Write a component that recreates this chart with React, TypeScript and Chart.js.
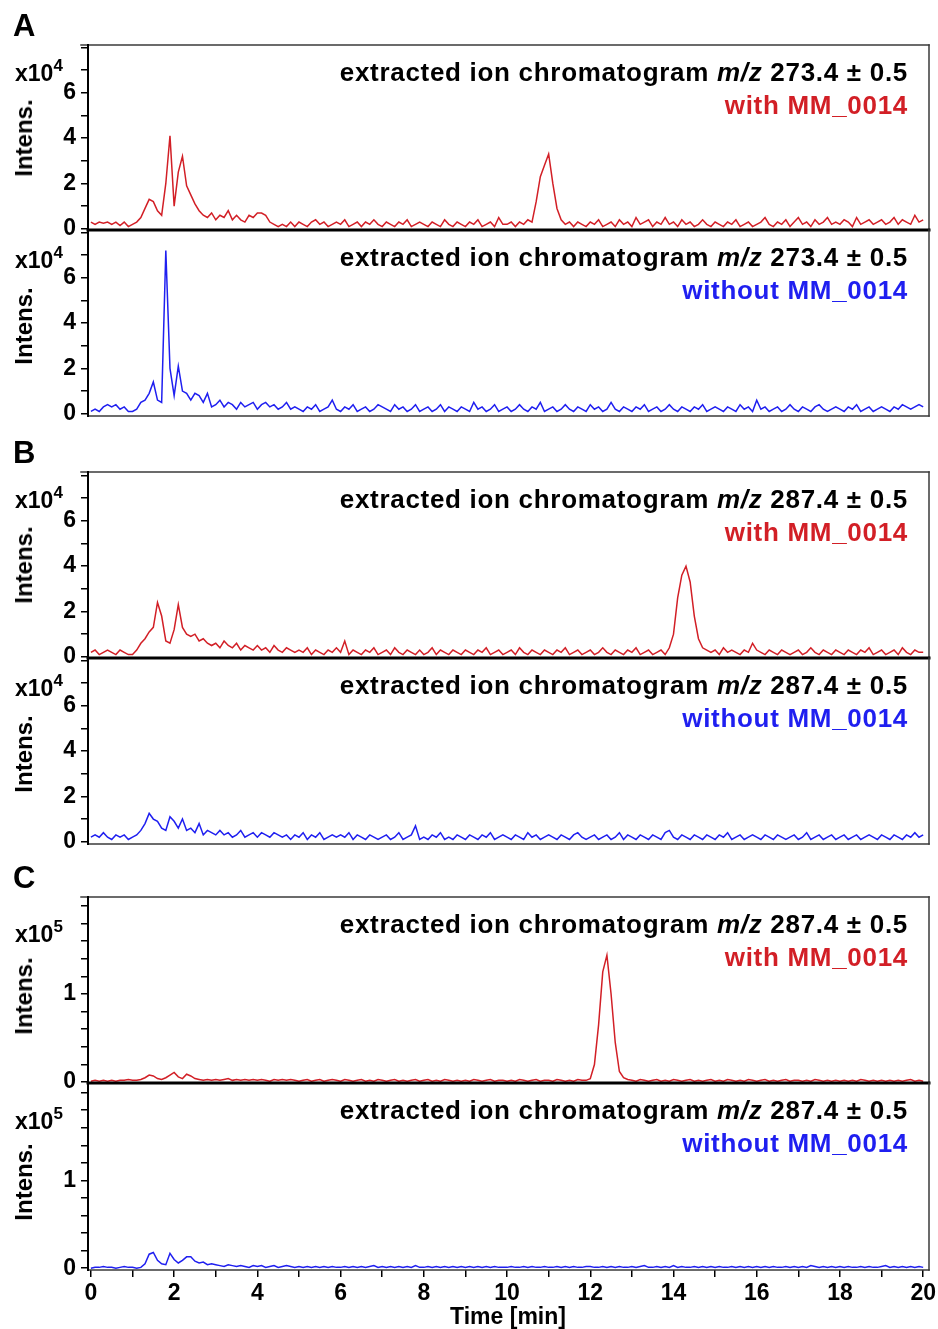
import React, { useEffect, useRef } from "react";
import { Chart, registerables } from "chart.js";

Chart.register(...registerables);

const FONT = '"Liberation Sans", Arial, Helvetica, sans-serif';
const RED = "#d21f26";
const BLUE = "#1f1ff0";
const FRAME = "#3a3a3a";

// sampling grid of the chromatograms (minutes)
const TIME_STEP_MIN = 0.1;

// x axis ticks (minutes) and the ones that carry a label
const X_TICK_VALUES = [0, 1, 2, 3, 4, 5, 6, 7, 8, 9, 10, 11, 12, 13, 14, 15, 16, 17, 18, 19, 20];
const X_TICK_LABELS = ["0", "2", "4", "6", "8", "10", "12", "14", "16", "18", "20"];

// y axis ticks (x10^4 panels and x10^5 panels)
const Y_TICKS_E4 = [0, 1, 2, 3, 4, 5, 6, 7, 8];
const Y_LABELS_E4 = ["0", "2", "4", "6"];
const Y_TICKS_E5 = [0, 0.2, 0.4, 0.6, 0.8, 1, 1.2, 1.4, 1.6, 1.8, 2];
const Y_LABELS_E5 = ["0", "1"];

// A: m/z 273.4, with MM_0014 (x10^4)
const A_WITH_273 = [
  0.3, 0.2, 0.3, 0.25, 0.3, 0.2, 0.3, 0.15, 0.3, 0.1,
  0.2, 0.3, 0.5, 0.9, 1.3, 1.2, 0.8, 0.6, 2.0, 4.1,
  1.0, 2.5, 3.2, 1.9, 1.5, 1.1, 0.8, 0.6, 0.5, 0.7,
  0.4, 0.6, 0.5, 0.8, 0.4, 0.6, 0.4, 0.3, 0.6, 0.5,
  0.7, 0.7, 0.6, 0.3, 0.2, 0.1, 0.2, 0.1, 0.3, 0.1,
  0.3, 0.2, 0.1, 0.3, 0.4, 0.2, 0.3, 0.1, 0.2, 0.3,
  0.2, 0.4, 0.1, 0.2, 0.3, 0.1, 0.3, 0.2, 0.4, 0.2,
  0.1, 0.3, 0.2, 0.1, 0.3, 0.2, 0.4, 0.1, 0.2, 0.3,
  0.2, 0.1, 0.3, 0.2, 0.1, 0.4, 0.2, 0.1, 0.3, 0.2,
  0.1, 0.3, 0.2, 0.4, 0.1, 0.2, 0.3, 0.1, 0.5, 0.2,
  0.2, 0.3, 0.1, 0.3, 0.2, 0.4, 0.3, 1.2, 2.3, 2.8,
  3.3, 2.0, 0.9, 0.4, 0.2, 0.3, 0.1, 0.3, 0.2, 0.1,
  0.3, 0.2, 0.4, 0.1, 0.2, 0.3, 0.1, 0.4, 0.2, 0.3,
  0.1, 0.5, 0.2, 0.3, 0.4, 0.1, 0.3, 0.2, 0.5, 0.2,
  0.3, 0.1, 0.4, 0.2, 0.3, 0.1, 0.2, 0.4, 0.2, 0.1,
  0.3, 0.2, 0.1, 0.3, 0.2, 0.4, 0.1, 0.2, 0.3, 0.1,
  0.2, 0.3, 0.5, 0.2, 0.1, 0.3, 0.2, 0.4, 0.1, 0.3,
  0.5, 0.2, 0.3, 0.1, 0.4, 0.2, 0.3, 0.5, 0.2, 0.3,
  0.2, 0.4, 0.3, 0.1, 0.5, 0.2, 0.3, 0.4, 0.2, 0.3,
  0.4, 0.2, 0.3, 0.5, 0.2, 0.4, 0.3, 0.2, 0.6, 0.3,
  0.4,
];

// A: m/z 273.4, without MM_0014 (x10^4)
const A_WITHOUT_273 = [
  0.1, 0.2, 0.1, 0.3, 0.4, 0.3, 0.4, 0.2, 0.3, 0.1,
  0.1, 0.2, 0.5, 0.6, 0.9, 1.4, 0.6, 0.5, 7.2, 2.0,
  0.8, 2.1, 1.0, 0.9, 0.6, 0.9, 0.8, 0.5, 0.9, 0.3,
  0.4, 0.6, 0.3, 0.5, 0.4, 0.2, 0.5, 0.3, 0.4, 0.5,
  0.2, 0.4, 0.5, 0.3, 0.4, 0.2, 0.3, 0.5, 0.2, 0.3,
  0.2, 0.1, 0.3, 0.2, 0.4, 0.1, 0.2, 0.3, 0.6, 0.2,
  0.1, 0.3, 0.2, 0.4, 0.1, 0.2, 0.3, 0.1, 0.2, 0.4,
  0.3, 0.2, 0.1, 0.4, 0.2, 0.3, 0.1, 0.2, 0.4, 0.1,
  0.2, 0.3, 0.1, 0.2, 0.4, 0.1, 0.3, 0.2, 0.1, 0.3,
  0.2, 0.1, 0.5, 0.2, 0.3, 0.1, 0.2, 0.4, 0.1, 0.2,
  0.3, 0.1, 0.2, 0.4, 0.2, 0.1, 0.3, 0.2, 0.5, 0.1,
  0.2, 0.3, 0.1, 0.2, 0.4, 0.2, 0.1, 0.3, 0.2, 0.1,
  0.4, 0.2, 0.3, 0.1, 0.2, 0.5, 0.2, 0.1, 0.3, 0.2,
  0.1, 0.3, 0.2, 0.4, 0.1, 0.2, 0.3, 0.1, 0.2, 0.4,
  0.2, 0.1, 0.3, 0.2, 0.1, 0.3, 0.2, 0.4, 0.1, 0.2,
  0.3, 0.2, 0.1, 0.3, 0.2, 0.1, 0.4, 0.2, 0.3, 0.1,
  0.6, 0.2, 0.3, 0.1, 0.2, 0.3, 0.1, 0.2, 0.4, 0.2,
  0.1, 0.3, 0.2, 0.1, 0.3, 0.4, 0.2, 0.1, 0.2, 0.3,
  0.2, 0.1, 0.3, 0.2, 0.4, 0.1, 0.2, 0.3, 0.1, 0.2,
  0.3, 0.2, 0.1, 0.3, 0.2, 0.4, 0.3, 0.2, 0.3, 0.4,
  0.3,
];

// B: m/z 287.4, with MM_0014 (x10^4)
const B_WITH_287 = [
  0.2, 0.3, 0.1, 0.2, 0.3, 0.2, 0.1, 0.3, 0.2, 0.1,
  0.1, 0.3, 0.6, 0.8, 1.1, 1.3, 2.4, 1.8, 0.7, 0.6,
  1.2, 2.3, 1.3, 1.0, 0.9, 1.0, 0.7, 0.8, 0.6, 0.5,
  0.6, 0.4, 0.7, 0.5, 0.4, 0.6, 0.3, 0.5, 0.4, 0.3,
  0.5, 0.3, 0.4, 0.2, 0.5, 0.3, 0.2, 0.4, 0.3, 0.2,
  0.3, 0.2, 0.4, 0.1, 0.3, 0.2, 0.1, 0.3, 0.2, 0.4,
  0.2, 0.7, 0.1, 0.3, 0.2, 0.1, 0.3, 0.2, 0.4, 0.1,
  0.2, 0.3, 0.1, 0.4, 0.2, 0.1, 0.3, 0.2, 0.1, 0.3,
  0.1, 0.2, 0.4, 0.1, 0.3, 0.2, 0.1, 0.3, 0.2, 0.1,
  0.3, 0.2, 0.1, 0.3, 0.2, 0.4, 0.1, 0.2, 0.3, 0.1,
  0.2, 0.3, 0.1, 0.4, 0.2, 0.1, 0.3, 0.2, 0.1, 0.3,
  0.2, 0.1, 0.3, 0.2, 0.4, 0.1, 0.2, 0.3, 0.1, 0.2,
  0.3, 0.1, 0.2, 0.4, 0.2, 0.1, 0.3, 0.2, 0.1, 0.3,
  0.2, 0.4, 0.1, 0.2, 0.3, 0.1, 0.2, 0.3, 0.1, 0.4,
  1.0, 2.6, 3.6, 4.0, 3.3, 1.8, 0.8, 0.4, 0.3, 0.2,
  0.3, 0.1, 0.4, 0.2, 0.3, 0.2, 0.1, 0.3, 0.2, 0.6,
  0.3, 0.2, 0.1, 0.3, 0.2, 0.1, 0.3, 0.2, 0.1, 0.2,
  0.3, 0.1, 0.2, 0.4, 0.2, 0.1, 0.3, 0.2, 0.1, 0.3,
  0.2, 0.1, 0.3, 0.2, 0.1, 0.3, 0.2, 0.4, 0.1, 0.2,
  0.3, 0.1, 0.2, 0.3, 0.1, 0.4, 0.2, 0.1, 0.3, 0.2,
  0.2,
];

// B: m/z 287.4, without MM_0014 (x10^4)
const B_WITHOUT_287 = [
  0.2, 0.3, 0.2, 0.4, 0.2, 0.1, 0.3, 0.2, 0.3, 0.1,
  0.2, 0.3, 0.5, 0.8, 1.25, 1.0, 0.9, 0.6, 0.5, 1.1,
  0.9, 0.6, 1.0, 0.5, 0.6, 0.4, 0.8, 0.3, 0.5, 0.4,
  0.3, 0.5, 0.3, 0.4, 0.2, 0.3, 0.5, 0.2, 0.3, 0.4,
  0.2, 0.4, 0.3, 0.2, 0.4, 0.3, 0.2, 0.3, 0.1, 0.3,
  0.2, 0.4, 0.1, 0.3, 0.2, 0.4, 0.1, 0.2, 0.3, 0.2,
  0.3, 0.2, 0.4, 0.1, 0.3, 0.2, 0.1, 0.3, 0.2, 0.1,
  0.2, 0.3, 0.1, 0.2, 0.4, 0.1, 0.2, 0.3, 0.7, 0.1,
  0.2, 0.1, 0.3, 0.2, 0.4, 0.1, 0.2, 0.1, 0.3, 0.2,
  0.1, 0.3, 0.2, 0.1, 0.3, 0.2, 0.4, 0.1, 0.2, 0.3,
  0.2, 0.1, 0.3, 0.2, 0.1, 0.4, 0.2, 0.3, 0.1, 0.2,
  0.3, 0.2, 0.1, 0.3, 0.2, 0.1, 0.3, 0.4, 0.2, 0.1,
  0.2, 0.3, 0.1, 0.2, 0.3, 0.1, 0.2, 0.4, 0.1, 0.3,
  0.2, 0.1, 0.3, 0.2, 0.1, 0.3, 0.2, 0.1, 0.4, 0.5,
  0.2, 0.1, 0.3, 0.2, 0.1, 0.3, 0.2, 0.1, 0.3, 0.2,
  0.1, 0.3, 0.2, 0.4, 0.1, 0.2, 0.3, 0.1, 0.2, 0.3,
  0.2, 0.1, 0.3, 0.2, 0.1, 0.3, 0.2, 0.1, 0.2, 0.3,
  0.1, 0.2, 0.4, 0.1, 0.2, 0.3, 0.1, 0.2, 0.3, 0.1,
  0.2, 0.3, 0.1, 0.2, 0.3, 0.1, 0.2, 0.3, 0.2, 0.1,
  0.3, 0.2, 0.1, 0.3, 0.2, 0.1, 0.3, 0.2, 0.4, 0.2,
  0.3,
];

// C: m/z 287.4, with MM_0014 (x10^5)
const C_WITH_287 = [
  0.01, 0.02, 0.01, 0.02, 0.01, 0.02, 0.01, 0.02, 0.02, 0.03,
  0.02, 0.02, 0.03, 0.05, 0.08, 0.07, 0.04, 0.03, 0.05, 0.08,
  0.11, 0.06, 0.04, 0.09, 0.07, 0.04, 0.03, 0.02, 0.03, 0.02,
  0.03, 0.02, 0.03, 0.04, 0.02, 0.03, 0.02, 0.03, 0.02, 0.03,
  0.02, 0.03, 0.02, 0.01, 0.03, 0.02, 0.03, 0.02, 0.03, 0.02,
  0.01, 0.02, 0.03, 0.01, 0.02, 0.03, 0.01, 0.02, 0.03, 0.02,
  0.01, 0.03, 0.02, 0.01, 0.02, 0.03, 0.01, 0.02, 0.01, 0.03,
  0.02, 0.01, 0.02, 0.03, 0.01, 0.02, 0.01, 0.02, 0.03, 0.01,
  0.02, 0.03, 0.01, 0.02, 0.01, 0.03, 0.02, 0.01, 0.02, 0.01,
  0.02, 0.01, 0.03, 0.02, 0.01, 0.02, 0.03, 0.01, 0.02, 0.02,
  0.01, 0.02, 0.01, 0.03, 0.02, 0.01, 0.02, 0.03, 0.01, 0.02,
  0.02, 0.01, 0.03, 0.02, 0.01, 0.02, 0.01, 0.03, 0.02, 0.02,
  0.04, 0.2, 0.65, 1.25, 1.44, 1.0, 0.45, 0.12, 0.05, 0.03,
  0.02, 0.01, 0.03, 0.02, 0.01, 0.02, 0.03, 0.01, 0.02, 0.01,
  0.03, 0.02, 0.01, 0.02, 0.03, 0.01, 0.02, 0.01, 0.02, 0.03,
  0.01, 0.02, 0.01, 0.03, 0.02, 0.01, 0.02, 0.01, 0.03, 0.02,
  0.01, 0.02, 0.03, 0.01, 0.02, 0.01, 0.02, 0.03, 0.01, 0.02,
  0.02, 0.01, 0.02, 0.01, 0.03, 0.02, 0.01, 0.02, 0.01, 0.02,
  0.01, 0.02, 0.01, 0.02, 0.01, 0.03, 0.02, 0.01, 0.02, 0.01,
  0.02, 0.01, 0.02, 0.01, 0.02, 0.01, 0.02, 0.03, 0.01, 0.02,
  0.01,
];

// C: m/z 287.4, without MM_0014 (x10^5)
const C_WITHOUT_287 = [
  0.0, 0.01, 0.01, 0.02, 0.01, 0.01, 0.0, 0.01, 0.02, 0.01,
  0.01, 0.0, 0.01, 0.05, 0.16, 0.18, 0.09, 0.05, 0.04, 0.17,
  0.1, 0.06, 0.09, 0.13, 0.13, 0.08, 0.06, 0.07, 0.04, 0.05,
  0.04, 0.03, 0.02, 0.04, 0.03, 0.02, 0.03, 0.02, 0.01, 0.03,
  0.02, 0.03, 0.01, 0.02, 0.03, 0.01, 0.02, 0.03, 0.02, 0.01,
  0.02, 0.01, 0.02, 0.01, 0.02, 0.01, 0.02, 0.01, 0.02, 0.01,
  0.01, 0.02, 0.01, 0.02, 0.01, 0.02, 0.01, 0.02, 0.03, 0.01,
  0.02, 0.01, 0.02, 0.01, 0.02, 0.01, 0.02, 0.01, 0.03, 0.01,
  0.01, 0.02, 0.01, 0.02, 0.01, 0.02, 0.01, 0.02, 0.01, 0.02,
  0.01, 0.02, 0.01, 0.02, 0.01, 0.02, 0.01, 0.02, 0.01, 0.01,
  0.01, 0.02, 0.01, 0.01, 0.02, 0.01, 0.02, 0.01, 0.01, 0.02,
  0.01, 0.01, 0.02, 0.01, 0.02, 0.01, 0.02, 0.01, 0.01, 0.02,
  0.02, 0.01, 0.01, 0.02, 0.01, 0.02, 0.01, 0.02, 0.01, 0.01,
  0.02, 0.01, 0.02, 0.03, 0.01, 0.01, 0.02, 0.01, 0.02, 0.01,
  0.03, 0.01, 0.02, 0.01, 0.01, 0.02, 0.01, 0.02, 0.01, 0.02,
  0.01, 0.02, 0.01, 0.01, 0.02, 0.01, 0.02, 0.01, 0.02, 0.01,
  0.02, 0.01, 0.02, 0.01, 0.02, 0.01, 0.01, 0.02, 0.01, 0.02,
  0.01, 0.02, 0.01, 0.03, 0.02, 0.01, 0.02, 0.01, 0.02, 0.01,
  0.02, 0.01, 0.02, 0.01, 0.01, 0.02, 0.01, 0.02, 0.01, 0.01,
  0.02, 0.03, 0.01, 0.02, 0.01, 0.02, 0.01, 0.02, 0.01, 0.02,
  0.01,
];

type Sub = {
  key: string;
  top: number;
  bottom: number;
  data: number[];
  color: string;
  yMin: number;
  yMax: number;
  yTicks: number[];
  yLabels: string[];
  exp: string;
  mz: string;
  tag: string;
  upper: boolean;
  showX: boolean;
  expOffset: number;
  intOffset: number;
};

const SUBPLOTS: Sub[] = [
  { key: "A1", top: 45, bottom: 230, data: A_WITH_273, color: RED, yMin: -0.05, yMax: 8.1, yTicks: Y_TICKS_E4, yLabels: Y_LABELS_E4, exp: "4", mz: "273.4", tag: "with MM_0014", upper: true, showX: false, expOffset: 28, intOffset: 93 },
  { key: "A2", top: 230, bottom: 416, data: A_WITHOUT_273, color: BLUE, yMin: -0.1, yMax: 8.1, yTicks: Y_TICKS_E4, yLabels: Y_LABELS_E4, exp: "4", mz: "273.4", tag: "without MM_0014", upper: false, showX: false, expOffset: 30, intOffset: 96 },
  { key: "B1", top: 472, bottom: 658, data: B_WITH_287, color: RED, yMin: -0.05, yMax: 8.15, yTicks: Y_TICKS_E4, yLabels: Y_LABELS_E4, exp: "4", mz: "287.4", tag: "with MM_0014", upper: true, showX: false, expOffset: 28, intOffset: 93 },
  { key: "B2", top: 658, bottom: 844, data: B_WITHOUT_287, color: BLUE, yMin: -0.1, yMax: 8.1, yTicks: Y_TICKS_E4, yLabels: Y_LABELS_E4, exp: "4", mz: "287.4", tag: "without MM_0014", upper: false, showX: false, expOffset: 30, intOffset: 96 },
  { key: "C1", top: 897, bottom: 1083, data: C_WITH_287, color: RED, yMin: -0.01, yMax: 2.1, yTicks: Y_TICKS_E5, yLabels: Y_LABELS_E5, exp: "5", mz: "287.4", tag: "with MM_0014", upper: true, showX: false, expOffset: 37, intOffset: 99 },
  { key: "C2", top: 1083, bottom: 1270, data: C_WITHOUT_287, color: BLUE, yMin: -0.02, yMax: 2.11, yTicks: Y_TICKS_E5, yLabels: Y_LABELS_E5, exp: "5", mz: "287.4", tag: "without MM_0014", upper: false, showX: true, expOffset: 38, intOffset: 99 },
];

const PANEL_LETTERS = [
  { letter: "A", y: 25 },
  { letter: "B", y: 452 },
  { letter: "C", y: 877 },
];

const framePlugin = {
  id: "frame",
  afterDraw(chart: any, _args: any, opts: any) {
    const { ctx, chartArea } = chart;
    const { left, right, top, bottom } = chartArea;
    const line = (x1: number, y1: number, x2: number, y2: number, color: string, w: number) => {
      ctx.beginPath();
      ctx.strokeStyle = color;
      ctx.lineWidth = w;
      ctx.moveTo(x1, y1);
      ctx.lineTo(x2, y2);
      ctx.stroke();
    };
    ctx.save();
    ctx.lineCap = "square";
    if (opts.upper) line(left - 7, top, right, top, FRAME, 1.5);
    line(right, top, right, bottom, FRAME, 1.5);
    if (opts.upper) line(left, bottom, right, bottom, "#000", 3);
    else line(left, bottom, right, bottom, FRAME, 1.5);
    line(left, top, left, bottom, "#000", 2);
    ctx.restore();
  },
};

const PAD_T = 12;
const PAD_B = 2;
const PAD_R = 9;
const Y_AXIS_W = 88;
const W = 938;

function SubChart({ s }: { s: Sub }) {
  const ref = useRef<HTMLCanvasElement | null>(null);
  const xH = s.showX ? 40 : 6;
  const h = s.bottom - s.top;
  const canvasH = PAD_T + h + xH + PAD_B;

  useEffect(() => {
    if (!ref.current) return;
    const pts = s.data.map((v, i) => ({ x: i * TIME_STEP_MIN, y: v }));
    const chart = new Chart(ref.current, {
      type: "line",
      data: {
        datasets: [
          {
            data: pts,
            borderColor: s.color,
            borderWidth: 1.5,
            pointRadius: 0,
            tension: 0,
            fill: false,
          },
        ],
      },
      options: {
        animation: false,
        responsive: false,
        maintainAspectRatio: false,
        layout: { padding: { top: PAD_T, right: PAD_R, left: 0, bottom: PAD_B } },
        plugins: {
          legend: { display: false },
          tooltip: { enabled: false },
          frame: { upper: s.upper },
        } as any,
        scales: {
          x: {
            type: "linear",
            min: -0.07,
            max: 20.14,
            afterBuildTicks: (scale: any) => {
              scale.ticks = X_TICK_VALUES.map((v) => ({ value: v }));
            },
            afterFit: (scale: any) => {
              scale.height = xH;
              scale.paddingLeft = 0;
              scale.paddingRight = 0;
              scale.paddingTop = 0;
              scale.paddingBottom = 0;
            },
            grid: {
              drawOnChartArea: false,
              drawTicks: s.showX,
              tickLength: 7,
              color: "#000",
              lineWidth: 1.5,
            },
            border: { display: false },
            ticks: {
              display: s.showX,
              autoSkip: false,
              maxRotation: 0,
              padding: 3,
              color: "#000",
              font: { family: FONT, size: 23, weight: "bold" },
              callback: (v: any) => (X_TICK_LABELS.includes(String(v)) ? String(v) : ""),
            },
          },
          y: {
            type: "linear",
            min: s.yMin,
            max: s.yMax,
            afterBuildTicks: (scale: any) => {
              scale.ticks = s.yTicks.map((v) => ({ value: v }));
            },
            afterFit: (scale: any) => {
              scale.width = Y_AXIS_W;
              scale.paddingLeft = 0;
              scale.paddingRight = 0;
              scale.paddingTop = 0;
              scale.paddingBottom = 0;
            },
            grid: {
              drawOnChartArea: false,
              drawTicks: true,
              tickLength: 7,
              color: "#000",
              lineWidth: 1.5,
            },
            border: { display: false },
            ticks: {
              autoSkip: false,
              padding: 5,
              color: "#000",
              font: { family: FONT, size: 23, weight: "bold" },
              callback: (v: any) => (s.yLabels.includes(String(v)) ? String(v) : ""),
            },
          },
        },
      } as any,
      plugins: [framePlugin],
    });
    return () => chart.destroy();
  }, []);

  return (
    <canvas
      ref={ref}
      width={W}
      height={canvasH}
      style={{ position: "absolute", left: 0, top: s.top - PAD_T, width: W, height: canvasH }}
    />
  );
}

const baseText: React.CSSProperties = {
  position: "absolute",
  fontFamily: FONT,
  fontWeight: 700,
  lineHeight: 1,
  whiteSpace: "nowrap",
  color: "#000",
};

function Labels({ s }: { s: Sub }) {
  return (
    <>
      <div
        style={{
          ...baseText,
          left: 0,
          width: 908,
          textAlign: "right",
          top: s.top + 27,
          transform: "translateY(-50%)",
          fontSize: 26,
          letterSpacing: 0.7,
        }}
      >
        extracted ion chromatogram <i>m/z</i> {s.mz} ± 0.5
      </div>
      <div
        style={{
          ...baseText,
          left: 0,
          width: 908,
          textAlign: "right",
          top: s.top + 60,
          transform: "translateY(-50%)",
          fontSize: 26,
          letterSpacing: 0.7,
          color: s.color,
        }}
      >
        {s.tag}
      </div>
      <div
        style={{
          ...baseText,
          left: 15,
          top: s.top + s.expOffset,
          transform: "translateY(-50%)",
          fontSize: 23,
        }}
      >
        x10
        <span style={{ fontSize: 17, position: "relative", top: -10 }}>{s.exp}</span>
      </div>
      <div
        style={{
          ...baseText,
          left: 24,
          top: s.top + s.intOffset,
          transform: "translate(-50%, -50%) rotate(-90deg)",
          fontSize: 24,
        }}
      >
        Intens.
      </div>
    </>
  );
}

export default function App() {
  return (
    <div
      style={{
        position: "absolute",
        left: 0,
        top: 0,
        width: W,
        height: 1329,
        overflow: "hidden",
        background: "#fff",
      }}
    >
      {SUBPLOTS.map((s) => (
        <SubChart key={s.key} s={s} />
      ))}
      {SUBPLOTS.map((s) => (
        <Labels key={"l" + s.key} s={s} />
      ))}
      {PANEL_LETTERS.map((p) => (
        <div
          key={p.letter}
          style={{ ...baseText, left: 13, top: p.y, transform: "translateY(-50%)", fontSize: 31 }}
        >
          {p.letter}
        </div>
      ))}
      <div
        style={{
          ...baseText,
          left: 508,
          top: 1316,
          transform: "translate(-50%, -50%)",
          fontSize: 23,
        }}
      >
        Time [min]
      </div>
    </div>
  );
}
